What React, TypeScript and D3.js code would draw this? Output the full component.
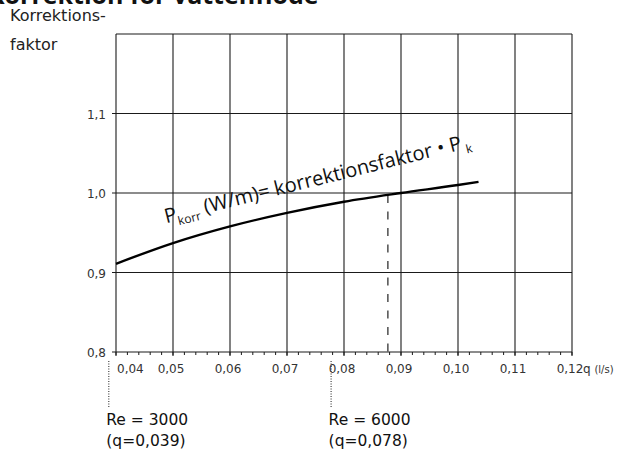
import React from "react";
import * as d3 from "d3";

const titleText = "Korrektion för vattenflöde";
const yTitleLines = ["Korrektions-", "faktor"];
const qValues = [0.04, 0.05, 0.06, 0.07, 0.08, 0.09, 0.1, 0.1036];
const factorValues = [0.911, 0.937, 0.958, 0.975, 0.989, 1.0, 1.01, 1.014];
const xTicks = [0.04, 0.05, 0.06, 0.07, 0.08, 0.09, 0.1, 0.11, 0.12];
const xTickLabels = ["0,04", "0,05", "0,06", "0,07", "0,08", "0,09", "0,10", "0,11", "0,12"];
const yTicks = [0.8, 0.9, 1.0, 1.1, 1.2];
const yTickLabels = ["0,8", "0,9", "1,0", "1,1", ""];
const reQ = [0.039, 0.078];
const reNumbers = ["3000", "6000"];
const reQLabels = ["0,039", "0,078"];
const refQ = 0.0877;

const FONT = "'Open Sans', 'Noto Sans', sans-serif";
const WIDE = "'DejaVu Sans', sans-serif";

export default function App() {
  const x = d3.scaleLinear().domain([0.04, 0.12]).range([116, 572]);
  const y = d3.scaleLinear().domain([0.8, 1.2]).range([352, 34]);
  const minorTicks = d3.range(0.04, 0.12001, 0.002);
  const data = qValues.map((q, i) => [q, factorValues[i]] as [number, number]);
  const line = d3
    .line<[number, number]>()
    .x((d) => x(d[0]))
    .y((d) => y(d[1]))
    .curve(d3.curveMonotoneX);
  const interp = d3.scaleLinear().domain(qValues).range(factorValues);
  const refY = y(interp(refQ));
  const gridColor = "#1a1a1a";

  return (
    <svg
      width={629}
      height={454}
      style={{ position: "absolute", left: 0, top: 0, background: "#fff" }}
      fontFamily={FONT}
    >
      <text x={-12} y={4} fontSize={25} fontWeight={700} fill="#111">
        {titleText}
      </text>
      {yTitleLines.map((t, i) => (
        <text key={t} x={10} y={21 + i * 29} fontSize={16} fontFamily={WIDE} fill="#222">
          {t}
        </text>
      ))}
      {/* horizontal gridlines */}
      {yTicks.map((v, i) => (
        <g key={"y" + i}>
          <line
            x1={i === yTicks.length - 1 ? 116 : 112}
            x2={572}
            y1={y(v)}
            y2={y(v)}
            stroke={gridColor}
            strokeWidth={1.1}
          />
          <text x={106} y={y(v) + 5} fontSize={12} fontFamily={WIDE} textAnchor="end" fill="#333">
            {yTickLabels[i]}
          </text>
        </g>
      ))}
      {/* vertical gridlines */}
      {xTicks.map((v, i) => (
        <g key={"x" + i}>
          <line x1={x(v)} x2={x(v)} y1={y(1.2)} y2={y(0.8) + 4} stroke={gridColor} strokeWidth={1.1} />
          <text
            x={i === 0 ? x(v) + 1 : x(v) - 2}
            y={373}
            fontSize={12}
            fontFamily={WIDE}
            textAnchor={i === 0 ? "start" : "middle"}
            fill="#333"
          >
            {xTickLabels[i]}
          </text>
        </g>
      ))}
      <text x={x(0.12) + 11} y={373} fontSize={12} fontFamily={WIDE} fill="#333">
        q <tspan fontSize={10}>(l/s)</tspan>
      </text>
      {minorTicks.map((v, i) => (
        <line key={"m" + i} x1={x(v)} x2={x(v)} y1={y(0.8)} y2={y(0.8) + 3} stroke={gridColor} strokeWidth={1} />
      ))}
      {/* dashed reference line */}
      <line
        x1={x(refQ)}
        x2={x(refQ)}
        y1={refY}
        y2={y(0.8)}
        stroke="#222"
        strokeWidth={1.2}
        strokeDasharray="8,8.5"
      />
      {/* curve */}
      <path d={line(data) || ""} fill="none" stroke="#000" strokeWidth={2.4} />
      {/* Re markers */}
      {reQ.map((q, i) => (
        <g key={"re" + i}>
          <line
            x1={x(q) - 1.5}
            x2={x(q) - 1.5}
            y1={361}
            y2={407}
            stroke="#333"
            strokeWidth={1.1}
            strokeDasharray="1,1.5"
          />
          <text x={x(q) - 4} y={425} fontSize={15.5} fontFamily={WIDE} fill="#111">
            Re = {reNumbers[i]}
          </text>
          <text x={x(q) - 4} y={446} fontSize={15.5} fontFamily={WIDE} fill="#111">
            (q={reQLabels[i]})
          </text>
        </g>
      ))}
      {/* annotation */}
      <text
        transform={`translate(${x(0.0488)},${y(0.962)}) rotate(-14)`}
        fontSize={20}
        fill="#111"
      >
        P<tspan fontSize={12} dy={5}>korr</tspan>
        <tspan dy={-5}> (W/m)= korrektionsfaktor • P</tspan>
        <tspan fontSize={12} dy={5}> k</tspan>
      </text>
    </svg>
  );
}
